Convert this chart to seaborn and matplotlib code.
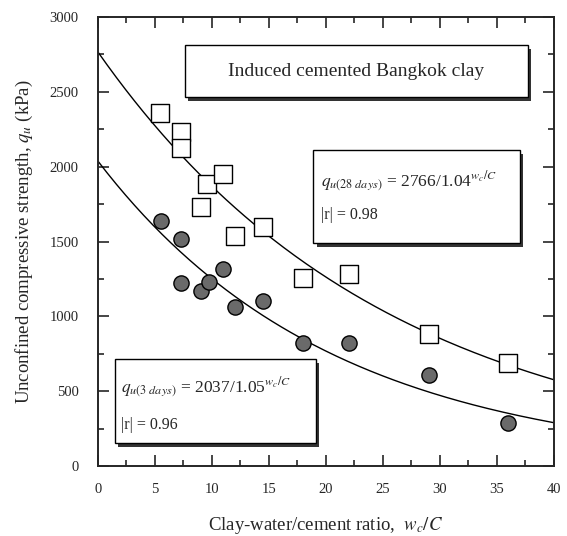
import numpy as np
import pandas as pd
import matplotlib
matplotlib.use('Agg')
import matplotlib.pyplot as plt
import seaborn as sns

# data
wc_28 = [5.4, 7.3, 7.3, 9.0, 9.6, 11.0, 12.0, 14.5, 18.0, 22.0, 29.0, 36.0]
qu_28 = [2360, 2230, 2125, 1730, 1885, 1950, 1535, 1600, 1255, 1280, 885, 685]
wc_3 = [5.5, 7.3, 7.3, 9.0, 9.7, 11.0, 12.0, 14.5, 18.0, 22.0, 29.0, 36.0]
qu_3 = [1640, 1520, 1225, 1170, 1230, 1315, 1065, 1100, 820, 825, 605, 290]

# fitted equations shown in the chart: qu = a / b**(wc/C)
fit_28 = (2766, 1.04)
fit_3 = (2037, 1.05)

sns.set_style('ticks')
plt.rcParams['font.family'] = ['Liberation Serif', 'DejaVu Serif']
plt.rcParams['mathtext.fontset'] = 'stix'

fig = plt.figure(figsize=(5.67, 5.36), dpi=100)
ax = fig.add_axes([0.1728, 0.1306, 0.8042, 0.8376])

xx = np.linspace(0, 40, 200)
df_fit = pd.DataFrame({
    'wc': np.concatenate([xx, xx]),
    'qu': np.concatenate([fit_28[0] / fit_28[1] ** xx, fit_3[0] / fit_3[1] ** xx]),
    'age': ['28'] * len(xx) + ['3'] * len(xx),
})
sns.lineplot(data=df_fit, x='wc', y='qu', hue='age', palette=['black', 'black'],
             lw=1.0, legend=False, ax=ax)

sns.scatterplot(x=wc_28, y=qu_28, marker='s', s=150, color='white',
                edgecolor='black', linewidth=1.0, ax=ax, zorder=3)
sns.scatterplot(x=wc_3, y=qu_3, marker='o', s=120, color='#6a6a6a',
                edgecolor='black', linewidth=1.0, ax=ax, zorder=3)

ax.set_xlim(0, 40)
ax.set_ylim(0, 3000)
ax.set_xticks(np.arange(0, 41, 5))
ax.set_yticks(np.arange(0, 3001, 500))
ax.set_xticks(np.arange(0, 41, 2.5), minor=True)
ax.set_yticks(np.arange(0, 3001, 250), minor=True)
ax.tick_params(which='both', direction='in', top=True, right=True, width=1.2,
               labelsize=10.5)
ax.tick_params(which='major', length=8)
ax.tick_params(which='minor', length=4)
ax.tick_params(axis='x', pad=12)
ax.tick_params(axis='y', pad=14)
for sp in ax.spines.values():
    sp.set_linewidth(1.4)

ax.set_xlabel(r'Clay-water/cement ratio,  $w_c/C$', fontsize=13.5, labelpad=14)
ax.set_ylabel(r'Unconfined compressive strength, $q_u$ (kPa)', fontsize=13.5,
              labelpad=10)


def shadow_box(x0, y0, x1, y1):
    dx, dy = 0.3, 25
    ax.add_patch(plt.Rectangle((x0 + dx, y0 - dy), x1 - x0, y1 - y0,
                               facecolor='#333333', edgecolor='none', zorder=4))
    ax.add_patch(plt.Rectangle((x0, y0), x1 - x0, y1 - y0,
                               facecolor='white', edgecolor='black', lw=1.0, zorder=5))


shadow_box(7.6, 2465, 37.7, 2812)
ax.text(22.6, 2638, 'Induced cemented Bangkok clay', ha='center', va='center',
        fontsize=14, zorder=6)

shadow_box(18.9, 1488, 37.0, 2110)
ax.text(19.6, 1900, r'$q_{u(28\ days)}$ = 2766/1.04$^{w_c/C}$', ha='left',
        va='center', fontsize=12.5, zorder=6)
ax.text(19.6, 1680, '|r| = 0.98', ha='left', va='center', fontsize=11.5, zorder=6)

shadow_box(1.5, 154, 19.1, 715)
ax.text(2.0, 520, r'$q_{u(3\ days)}$ = 2037/1.05$^{w_c/C}$', ha='left',
        va='center', fontsize=12.5, zorder=6)
ax.text(2.0, 275, '|r| = 0.96', ha='left', va='center', fontsize=11.5, zorder=6)

fig.savefig('out.png', dpi=100)
